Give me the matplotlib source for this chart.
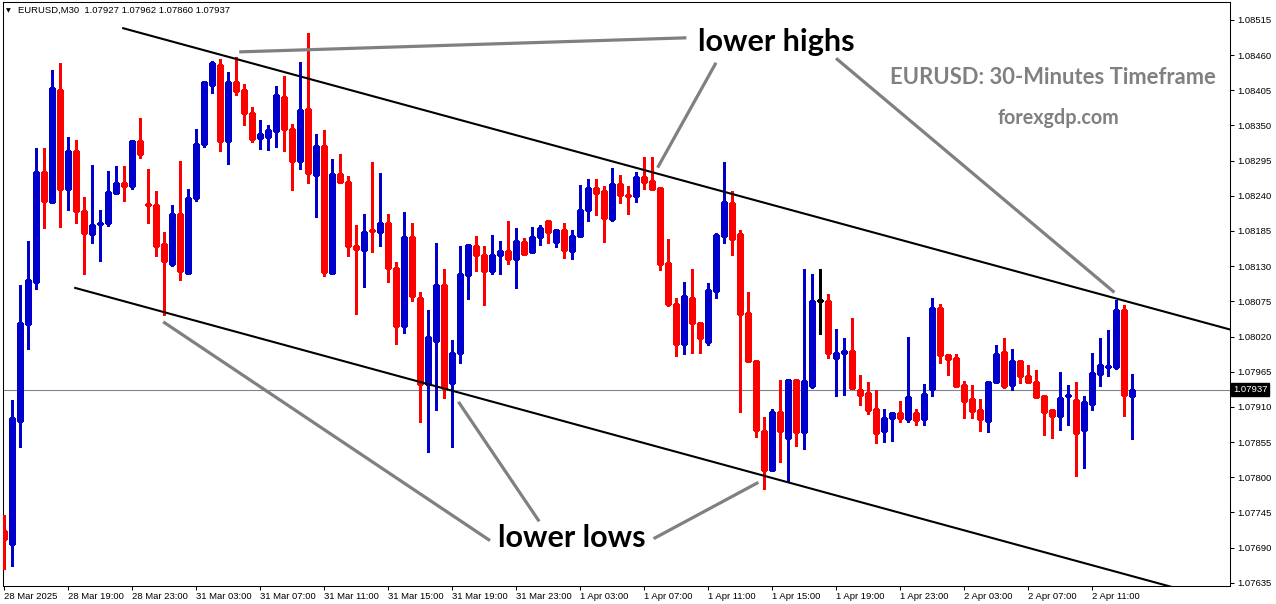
import matplotlib
matplotlib.use('Agg')
import matplotlib.pyplot as plt
import numpy as np

# EURUSD M30 candles (oldest first)
opens = [1.07716, 1.07695, 1.07888, 1.08039, 1.08106, 1.08277, 1.08231, 1.08406, 1.08251, 1.08310,
         1.08216, 1.08180, 1.08196, 1.08198, 1.08244, 1.08260, 1.08256, 1.08326, 1.08227, 1.08226,
         1.08164, 1.08134, 1.08211, 1.08119, 1.08237, 1.08321, 1.08414, 1.08444, 1.08326, 1.08418,
         1.08406, 1.08369, 1.08331, 1.08332, 1.08341, 1.08395, 1.08344, 1.08295, 1.08376, 1.08272,
         1.08318, 1.08119, 1.08274, 1.08261, 1.08161, 1.08155, 1.08187, 1.08184, 1.08197, 1.08127,
         1.08036, 1.08175, 1.08080, 1.07946, 1.08013, 1.08100, 1.07947, 1.07994, 1.08116, 1.08161,
         1.08147, 1.08122, 1.08147, 1.08153, 1.08141, 1.08168, 1.08152, 1.08175, 1.08200, 1.08168,
         1.08186, 1.08154, 1.08177, 1.08218, 1.08252, 1.08247, 1.08203, 1.08258, 1.08241, 1.08240,
         1.08270, 1.08263, 1.08252, 1.08135, 1.08071, 1.08009, 1.08081, 1.08041, 1.08011, 1.08091,
         1.08177, 1.08228, 1.08180, 1.08057, 1.07982, 1.07872, 1.07811, 1.07902, 1.07862, 1.07952,
         1.07871, 1.07943, 1.08076, 1.08076, 1.07987, 1.07994, 1.07998, 1.07937, 1.07931, 1.07906,
         1.07872, 1.07892, 1.07900, 1.07891, 1.07900, 1.07891, 1.07938, 1.08065, 1.07991, 1.07987,
         1.07944, 1.07922, 1.07905, 1.07888, 1.07949, 1.07996, 1.07945, 1.07982, 1.07958, 1.07949,
         1.07927, 1.07905, 1.07896, 1.07927, 1.07921, 1.07874, 1.07914, 1.07961, 1.07973, 1.07973,
         1.08062, 1.07927]
highs = [1.07741, 1.07921, 1.08101, 1.08169, 1.08314, 1.08315, 1.08436, 1.08448, 1.08332, 1.08328,
         1.08238, 1.08288, 1.08218, 1.08279, 1.08287, 1.08287, 1.08328, 1.08362, 1.08282, 1.08247,
         1.08183, 1.08226, 1.08294, 1.08251, 1.08345, 1.08418, 1.08451, 1.08454, 1.08433, 1.08457,
         1.08415, 1.08379, 1.08359, 1.08350, 1.08412, 1.08428, 1.08352, 1.08449, 1.08494, 1.08337,
         1.08343, 1.08298, 1.08305, 1.08271, 1.08194, 1.08211, 1.08293, 1.08276, 1.08211, 1.08136,
         1.08215, 1.08197, 1.08089, 1.08062, 1.08167, 1.08126, 1.08015, 1.08161, 1.08165, 1.08177,
         1.08161, 1.08178, 1.08170, 1.08200, 1.08189, 1.08174, 1.08192, 1.08195, 1.08200, 1.08188,
         1.08198, 1.08187, 1.08257, 1.08266, 1.08267, 1.08255, 1.08284, 1.08273, 1.08255, 1.08278,
         1.08301, 1.08300, 1.08252, 1.08172, 1.08081, 1.08105, 1.08125, 1.08041, 1.08103, 1.08182,
         1.08293, 1.08248, 1.08186, 1.08089, 1.07984, 1.07894, 1.07907, 1.07952, 1.07954, 1.07954,
         1.08125, 1.08117, 1.08125, 1.08087, 1.08032, 1.08017, 1.08049, 1.07960, 1.07949, 1.07936,
         1.07907, 1.07900, 1.07919, 1.08020, 1.07907, 1.07946, 1.08081, 1.08071, 1.07993, 1.07993,
         1.07950, 1.07944, 1.07923, 1.07951, 1.08007, 1.08018, 1.08000, 1.07984, 1.07975, 1.07967,
         1.07927, 1.07907, 1.07964, 1.07945, 1.07949, 1.07927, 1.07995, 1.08018, 1.08031, 1.08077,
         1.08070, 1.07962]
lows = [1.07656, 1.07662, 1.07848, 1.08001, 1.08094, 1.08190, 1.08228, 1.08191, 1.08218, 1.08198,
        1.08118, 1.08167, 1.08138, 1.08193, 1.08244, 1.08232, 1.08251, 1.08299, 1.08197, 1.08146,
        1.08053, 1.08131, 1.08109, 1.08119, 1.08232, 1.08317, 1.08401, 1.08310, 1.08290, 1.08398,
        1.08350, 1.08324, 1.08313, 1.08312, 1.08316, 1.08310, 1.08249, 1.08282, 1.08260, 1.08207,
        1.08115, 1.08119, 1.08261, 1.08146, 1.08055, 1.08098, 1.08152, 1.08161, 1.08105, 1.08009,
        1.08026, 1.08075, 1.07886, 1.07839, 1.07905, 1.07924, 1.07848, 1.07978, 1.08078, 1.08122,
        1.08070, 1.08118, 1.08118, 1.08134, 1.08096, 1.08147, 1.08152, 1.08163, 1.08167, 1.08160,
        1.08143, 1.08141, 1.08175, 1.08200, 1.08210, 1.08168, 1.08200, 1.08229, 1.08212, 1.08231,
        1.08251, 1.08249, 1.08124, 1.08067, 1.07990, 1.07993, 1.07995, 1.07995, 1.08007, 1.08080,
        1.08166, 1.08147, 1.07902, 1.07981, 1.07863, 1.07782, 1.07811, 1.07824, 1.07793, 1.07849,
        1.07844, 1.07939, 1.08024, 1.07987, 1.07927, 1.07929, 1.07940, 1.07913, 1.07899, 1.07853,
        1.07855, 1.07856, 1.07886, 1.07886, 1.07882, 1.07882, 1.07927, 1.07978, 1.07960, 1.07942,
        1.07892, 1.07892, 1.07873, 1.07871, 1.07949, 1.07940, 1.07937, 1.07948, 1.07949, 1.07925,
        1.07866, 1.07862, 1.07874, 1.07882, 1.07802, 1.07814, 1.07905, 1.07943, 1.07959, 1.07970,
        1.07895, 1.07860]
closes = [1.07703, 1.07892, 1.08041, 1.08108, 1.08277, 1.08232, 1.08409, 1.08251, 1.08310, 1.08216,
          1.08182, 1.08195, 1.08198, 1.08246, 1.08260, 1.08256, 1.08326, 1.08306, 1.08225, 1.08162,
          1.08138, 1.08211, 1.08122, 1.08236, 1.08321, 1.08418, 1.08447, 1.08325, 1.08418, 1.08404,
          1.08369, 1.08329, 1.08337, 1.08343, 1.08397, 1.08344, 1.08295, 1.08374, 1.08275, 1.08318,
          1.08121, 1.08274, 1.08262, 1.08162, 1.08157, 1.08184, 1.08185, 1.08197, 1.08127, 1.08036,
          1.08175, 1.08083, 1.07946, 1.08020, 1.08101, 1.07939, 1.07995, 1.08118, 1.08163, 1.08147,
          1.08122, 1.08147, 1.08153, 1.08141, 1.08169, 1.08149, 1.08175, 1.08189, 1.08184, 1.08186,
          1.08155, 1.08177, 1.08218, 1.08252, 1.08245, 1.08206, 1.08258, 1.08242, 1.08240, 1.08270,
          1.08262, 1.08251, 1.08134, 1.08071, 1.08009, 1.08084, 1.08041, 1.08017, 1.08092, 1.08178,
          1.08230, 1.08172, 1.08056, 1.07982, 1.07874, 1.07811, 1.07902, 1.07873, 1.07952, 1.07871,
          1.07951, 1.08076, 1.08076, 1.07994, 1.07994, 1.07998, 1.07940, 1.07929, 1.07905, 1.07869,
          1.07893, 1.07900, 1.07893, 1.07925, 1.07889, 1.07930, 1.08065, 1.07991, 1.07985, 1.07943,
          1.07919, 1.07904, 1.07891, 1.07949, 1.07993, 1.07943, 1.07982, 1.07958, 1.07949, 1.07926,
          1.07902, 1.07896, 1.07924, 1.07928, 1.07869, 1.07918, 1.07963, 1.07975, 1.07974, 1.08062,
          1.07929, 1.07937]

time_labels = ['28 Mar 2025', '28 Mar 19:00', '28 Mar 23:00', '31 Mar 03:00', '31 Mar 07:00',
               '31 Mar 11:00', '31 Mar 15:00', '31 Mar 19:00', '31 Mar 23:00', '1 Apr 03:00',
               '1 Apr 07:00', '1 Apr 11:00', '1 Apr 15:00', '1 Apr 19:00', '1 Apr 23:00',
               '2 Apr 03:00', '2 Apr 07:00', '2 Apr 11:00']
price_ticks = [1.07635, 1.07690, 1.07745, 1.07800, 1.07855, 1.07910, 1.07965, 1.08020, 1.08075,
               1.08130, 1.08185, 1.08240, 1.08295, 1.08350, 1.08405, 1.08460, 1.08515]
bid_price = 1.07937
symbol_header = 'EURUSD,M30  1.07927 1.07962 1.07860 1.07937'

# channel lines (bar index, price)
upper_channel = ([14.9, 153.25], [1.08502, 1.08031])
lower_channel = ([8.9, 147.0], [1.08096, 1.07625])
# grey pointer lines
high_pointers = [([29.4, 85.3], [1.08465, 1.08487]),
                 ([89.0, 81.7], [1.08448, 1.08284]),
                 ([104.0, 138.8], [1.08455, 1.08089])]
low_pointers = [([60.75, 19.9], [1.07701, 1.08043]),
                ([66.9, 56.8], [1.07731, 1.07918]),
                ([81.2, 94.3], [1.07704, 1.07792])]

W, H = 1276, 604
BULL = '#0000CC'
BEAR = '#FF0000'
AXIS_FONT = 'Liberation Sans'


def px(x, y):
    # pixel position -> figure fraction
    return x / W, 1 - y / H


def draw_candles(ax):
    o = np.array(opens)
    h = np.array(highs)
    l = np.array(lows)
    c = np.array(closes)
    x = np.arange(len(o))
    colors = np.where(c > o, BULL, np.where(c < o, BEAR, 'black'))
    ax.vlines(x, l, h, colors=colors, linewidth=0.75, antialiased=False, zorder=3)
    ax.bar(x, np.maximum(np.abs(c - o), 1.6e-5), width=0.55, bottom=np.minimum(o, c),
           color=colors, edgecolor=colors, linewidth=0.75, antialiased=False, zorder=4)


def main():
    fig = plt.figure(figsize=(W / 100, H / 100), dpi=100)
    fig.patch.set_facecolor('white')
    ax = fig.add_axes([3 / W, 18 / H, 1227 / W, 584 / H])

    draw_candles(ax)

    ax.axhline(bid_price, color='#7b8593', linewidth=0.8, zorder=2)

    for xs, ys in [upper_channel, lower_channel]:
        ax.plot(xs, ys, color='black', linewidth=1.5, zorder=5)
    for xs, ys in high_pointers + low_pointers:
        ax.plot(xs, ys, color='#808080', linewidth=2.3, solid_capstyle='butt', zorder=5)

    ax.set_xlim(-0.125, 153.25)
    ax.set_ylim(1.07630, 1.08543)

    ax.set_xticks(np.arange(len(time_labels)) * 8)
    ax.set_xticklabels(time_labels, ha='left', fontsize=6.8, fontfamily=AXIS_FONT)
    ax.yaxis.tick_right()
    ax.set_yticks(price_ticks)
    ax.set_yticklabels(['%.5f' % p for p in price_ticks], fontsize=6.8, fontfamily=AXIS_FONT)
    ax.tick_params(axis='x', direction='out', length=3, width=0.75, pad=1.5)
    ax.tick_params(axis='y', direction='out', length=3, width=0.75, pad=2)
    for s in ax.spines.values():
        s.set_color('black')
        s.set_linewidth(0.75)

    # current price box on the price axis
    ax.text(1.0025, bid_price, '%.5f' % bid_price, transform=ax.get_yaxis_transform(),
            ha='left', va='center', color='white', fontsize=6.8, fontfamily=AXIS_FONT,
            bbox=dict(facecolor='black', edgecolor='black', pad=1.2), clip_on=False, zorder=10)

    fig.text(*px(6, 10.5), '\u25bc', fontsize=4.5, va='center', ha='left', color='black')
    fig.text(*px(18, 10.5), symbol_header, fontsize=6.8, fontfamily=AXIS_FONT,
             va='center', ha='left', color='black')

    fig.text(*px(776, 42), 'lower highs', fontsize=22, fontweight='bold', fontfamily='Lato',
             ha='center', va='center', color='black')
    fig.text(*px(572, 538), 'lower lows', fontsize=22, fontweight='bold', fontfamily='Lato',
             ha='center', va='center', color='black')
    fig.text(*px(1053, 78), 'EURUSD: 30-Minutes Timeframe', fontsize=15.8, fontweight='bold',
             fontfamily='Lato', ha='center', va='center', color='#808080')
    fig.text(*px(1058, 118), 'forexgdp.com', fontsize=14.2, fontweight='bold', fontfamily='Lato',
             ha='center', va='center', color='#808080')

    fig.savefig('out.png', dpi=100, facecolor='white')


if __name__ == '__main__':
    main()
